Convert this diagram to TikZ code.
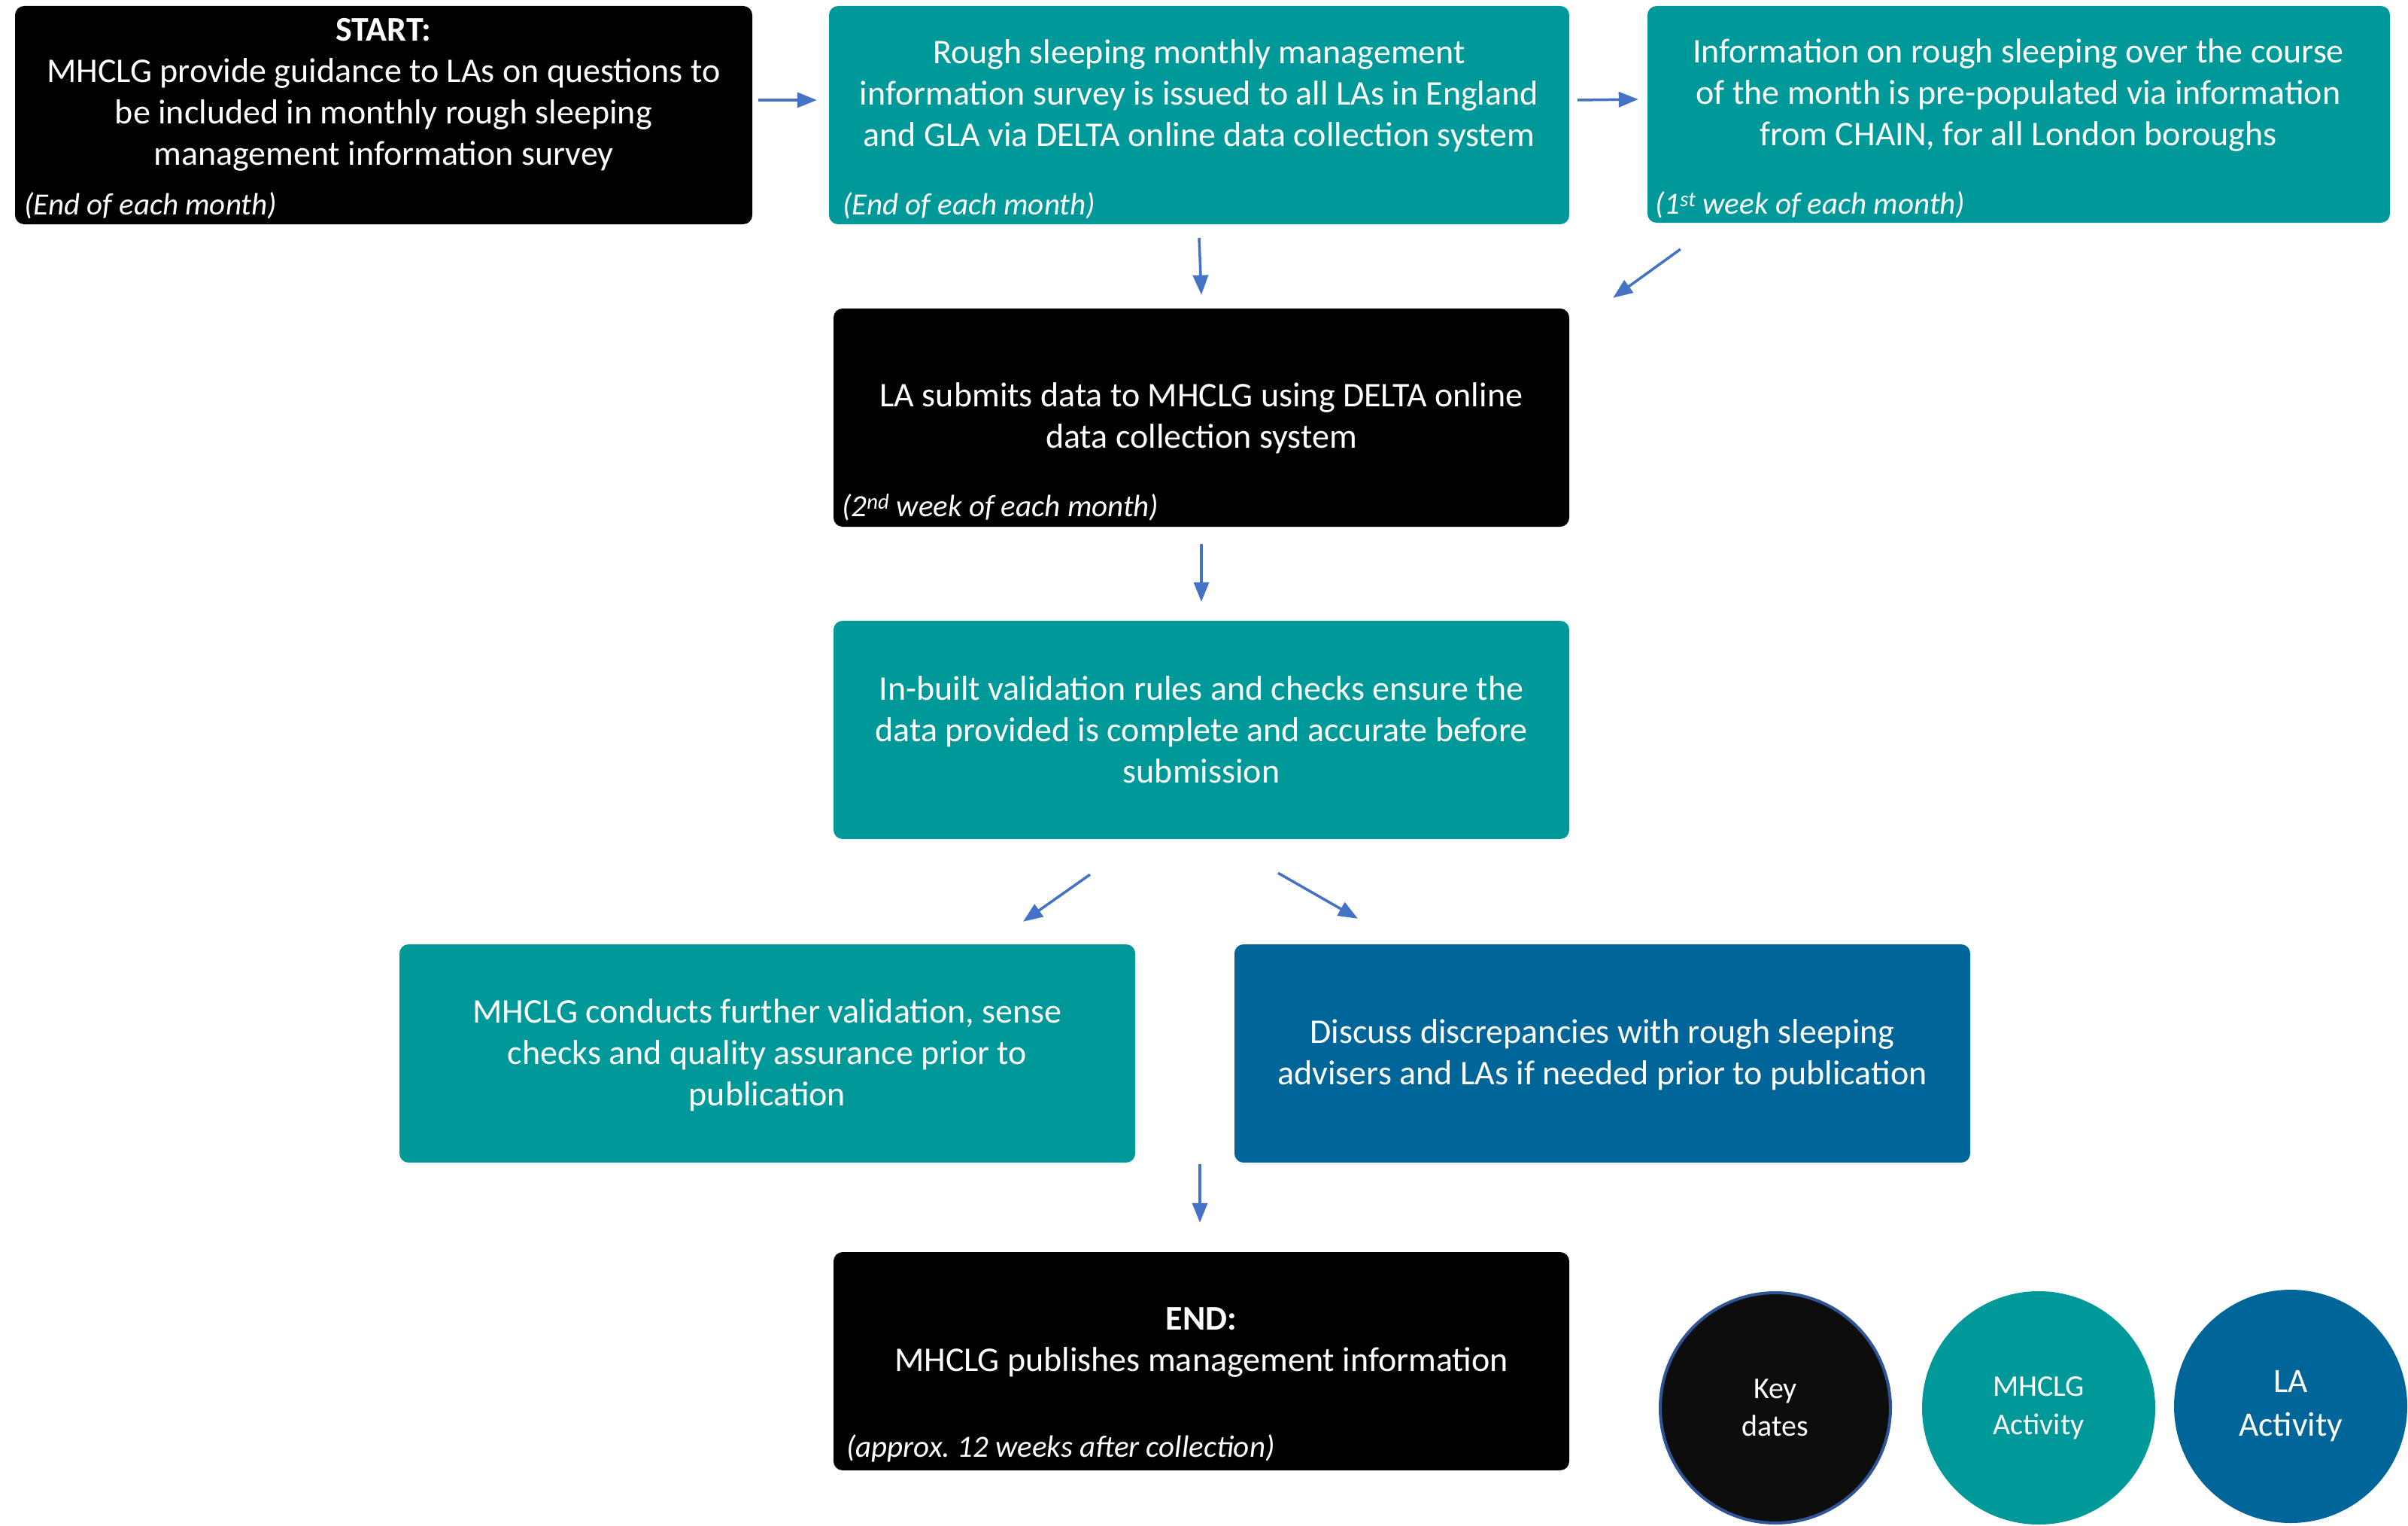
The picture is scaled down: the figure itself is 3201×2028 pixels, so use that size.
\documentclass[tikz,border=0pt]{standalone}
\usepackage{fontspec}
\setmainfont{Carlito}
\usetikzlibrary{arrows.meta,calc}
\definecolor{tealbox}{RGB}{0,153,153}
\definecolor{bluebox}{RGB}{0,102,153}
\definecolor{arrowblue}{RGB}{68,114,196}
\definecolor{keyfill}{RGB}{13,13,13}
\definecolor{keyedge}{RGB}{47,85,151}
\begin{document}
\begin{tikzpicture}[x=1pt,y=-1pt,
  box/.style={rounded corners=12pt, minimum height=290pt, inner sep=0pt, draw=none},
  maintext/.style={text=white, align=center, font=\fontsize{46}{55}\selectfont, inner sep=0pt},
  datetext/.style={text=white, anchor=base west, font=\fontsize{41}{46}\selectfont\itshape, inner sep=0pt},
  arr/.style={draw=arrowblue, line width=3.5pt, -{Triangle[length=26pt,width=20pt]}},
  legend/.style={circle, minimum size=310pt, inner sep=0pt, text=white, align=center}]
\useasboundingbox (0,0) rectangle (3201,2028);
\fill[white] (0,0) rectangle (3201,2028);

% boxes
\node[box, fill=black,   minimum width=980pt] (b1) at (510,153) {};
\node[box, fill=tealbox, minimum width=984pt] (b2) at (1594,153) {};
\node[box, fill=tealbox, minimum width=987pt, minimum height=288pt] (b3) at (2683.5,152) {};
\node[box, fill=black,   minimum width=978pt] (b4) at (1597,555) {};
\node[box, fill=tealbox, minimum width=978pt] (b5) at (1597,970) {};
\node[box, fill=tealbox, minimum width=978pt] (b6) at (1020,1400) {};
\node[box, fill=bluebox, minimum width=978pt] (b7) at (2130,1400) {};
\node[box, fill=black,   minimum width=978pt] (b8) at (1597,1809) {};

% texts
\node[maintext] (t1) at (510,126) {\textbf{START:}\\MHCLG provide guidance to LAs on questions to\\be included in monthly rough sleeping\\management information survey};
\node[datetext] (d1) at (32,285) {(End of each month)};
\node[maintext] (t2) at (1594,127) {Rough sleeping monthly management\\information survey is issued to all LAs in England\\and GLA via DELTA online data collection system};
\node[datetext] (d2) at (1120,285) {(End of each month)};
\node[maintext] (t3) at (2683,126) {Information on rough sleeping over the course\\of the month is pre-populated via information\\from CHAIN, for all London boroughs};
\node[datetext] (d3) at (2200,284) {(1\textsuperscript{st} week of each month)};
\node[maintext] (t4) at (1597,556) {LA submits data to MHCLG using DELTA online\\data collection system};
\node[datetext] (d4) at (1119,686) {(2\textsuperscript{nd} week of each month)};
\node[maintext] (t5) at (1597,970) {In-built validation rules and checks ensure the\\data provided is complete and accurate before\\submission};
\node[maintext] (t6) at (1020,1402) {MHCLG conducts further validation, sense\\checks and quality assurance prior to\\publication};
\node[maintext] (t7) at (2130,1402) {Discuss discrepancies with rough sleeping\\advisers and LAs if needed prior to publication};
\node[maintext] (t8) at (1597,1784) {\textbf{END:}\\MHCLG publishes management information};
\node[datetext] (d8) at (1125,1936) {(approx.\ 12 weeks after collection)};

% legend
\node[legend, fill=keyfill, draw=keyedge, line width=4pt, minimum size=306pt, font=\fontsize{40}{50}\selectfont] (k1) at (2360,1871) {Key\\dates};
\node[legend, fill=tealbox, font=\fontsize{40}{51}\selectfont] (k2) at (2710,1871) {MHCLG\\Activity};
\node[legend, fill=bluebox, font=\fontsize{45.5}{58}\selectfont] (k3) at (3045,1869) {LA\\Activity};

% connectors
\coordinate (j) at (1595,1545);
\draw[arr] ([xshift=8pt,yshift=20pt]b1.east) -- ([xshift=-16pt,yshift=20pt]b2.west);
\draw[arr] ([xshift=11pt,yshift=20pt]b2.east) -- ([xshift=-12pt,yshift=20pt]b3.west);
\draw[arr] ([yshift=-18pt]b2.south) -- ([yshift=18pt]b4.north);
\draw[arr] ([xshift=44pt,yshift=-35pt]b3.south west) -- ([xshift=58pt,yshift=14pt]b4.north east);
\draw[arr] ([yshift=-23pt]b4.south) -- ([yshift=25pt]b5.north);
\draw[arr] ([xshift=-148pt,yshift=-47pt]b5.south) -- ([xshift=340pt,yshift=30pt]b6.north);
\draw[arr] ([xshift=102pt,yshift=-45pt]b5.south) -- ([xshift=-325pt,yshift=34pt]b7.north);
\draw[arr] ([yshift=-2pt]j) -- ([xshift=-2pt,yshift=39pt]b8.north);
\end{tikzpicture}
\end{document}
